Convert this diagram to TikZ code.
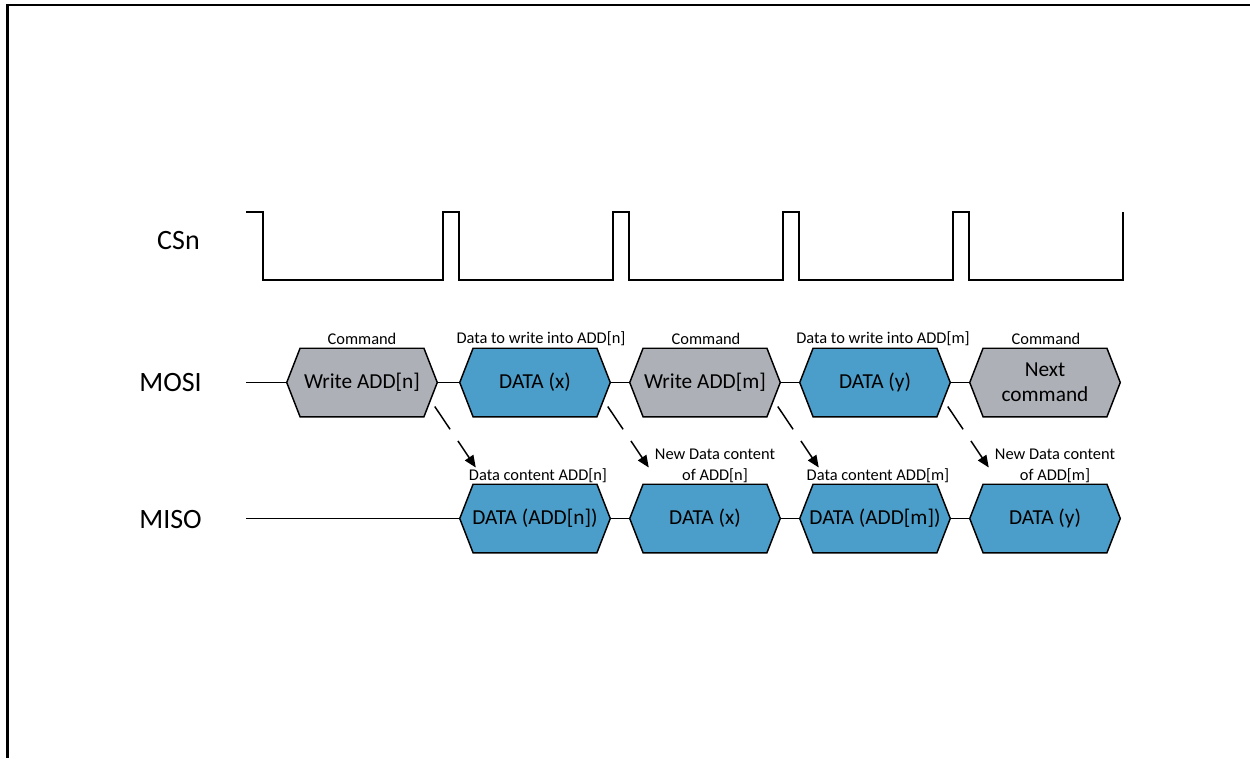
\documentclass[tikz,border=0pt]{standalone}
\usepackage{fontspec}
\setmainfont{Carlito}
\usetikzlibrary{arrows.meta,backgrounds}
\definecolor{cmdgray}{RGB}{173,176,182}
\definecolor{datablue}{RGB}{75,158,201}
\tikzset{
  wave/.style={line width=1.1pt, line join=miter},
  hexbox/.style={minimum width=112.5pt, minimum height=51pt, inner sep=0pt,
    font=\fontsize{16}{18.75}\selectfont, align=center},
  hexline/.style={line width=1.1pt, line join=miter},
  busline/.style={line width=1.1pt},
  siglabel/.style={font=\fontsize{21}{25}\selectfont, anchor=east, inner sep=0pt},
  toplabel/.style={font=\fontsize{12.3}{15.75}\selectfont, align=center, inner sep=0pt},
  ptr/.style={line width=1.1pt, dash pattern=on 20.6pt off 10.5pt on 80pt off 10pt,
    -{Triangle[length=9pt,width=7.5pt]}},
  frameline/.style={line width=1.6pt},
}
\newcommand\hexshape[2]{%
  \path[hexline, draw=black, fill=#2] (#1.west) -- ([xshift=10pt]#1.north west)
    -- ([xshift=-10pt]#1.north east) -- (#1.east) -- ([xshift=-10pt]#1.south east)
    -- ([xshift=10pt]#1.south west) -- cycle;}
\begin{document}
\begin{tikzpicture}[x=0.75pt,y=-0.75pt]
\useasboundingbox (0,0) rectangle (1250,758);
% frame
\draw[frameline] (1250,5) -- (7.5,5) -- (7.5,758);

% signal names
\node[siglabel] (lcs) at (200,241) {CSn};
\node[siglabel] (lmosi) at (202,383) {MOSI};
\node[siglabel] (lmiso) at (202,519) {MISO};

% CSn waveform
\draw[wave] (246,212) -- (263,212) -- (263,280) -- (443,280) -- (443,212) -- (459,212)
  -- (459,280) -- (613,280) -- (613,212) -- (629,212) -- (629,280) -- (783,280)
  -- (783,212) -- (799,212) -- (799,280) -- (953,280) -- (953,212) -- (969,212)
  -- (969,280) -- (1123,280) -- (1123,212);

% MOSI hexes
\node[hexbox] (h1) at (362,382.5) {Write ADD[n]};
\node[hexbox] (h2) at (535,382.5) {DATA (x)};
\node[hexbox] (h3) at (705,382.5) {Write ADD[m]};
\node[hexbox] (h4) at (875,382.5) {DATA (y)};
\node[hexbox] (h5) at (1045,382.5) {Next\\command};
% MISO hexes
\node[hexbox] (m1) at (535,518.5) {DATA (ADD[n])};
\node[hexbox] (m2) at (705,518.5) {DATA (x)};
\node[hexbox] (m3) at (875,518.5) {DATA (ADD[m])};
\node[hexbox] (m4) at (1045,518.5) {DATA (y)};

\begin{scope}[on background layer]
  \fill[white] (0,0) rectangle (1250,758);
  \hexshape{h1}{cmdgray}
  \hexshape{h2}{datablue}
  \hexshape{h3}{cmdgray}
  \hexshape{h4}{datablue}
  \hexshape{h5}{cmdgray}
  \hexshape{m1}{datablue}
  \hexshape{m2}{datablue}
  \hexshape{m3}{datablue}
  \hexshape{m4}{datablue}
\end{scope}

% bus lines
\coordinate (mosistart) at (246,382.5);
\coordinate (misostart) at (246,518.5);
\draw[busline] (mosistart) -- (h1.west);
\draw[busline] (h1.east) -- (h2.west);
\draw[busline] (h2.east) -- (h3.west);
\draw[busline] (h3.east) -- (h4.west);
\draw[busline] (h4.east) -- (h5.west);
\draw[busline] (misostart) -- (m1.west);
\draw[busline] (m1.east) -- (m2.west);
\draw[busline] (m2.east) -- (m3.west);
\draw[busline] (m3.east) -- (m4.west);

% labels
\node[toplabel] (t1) at (362,339) {Command};
\node[toplabel] (t2) at (541,339) {Data to write into ADD[n]};
\node[toplabel] (t3) at (706,339) {Command};
\node[toplabel] (t4) at (883,339) {Data to write into ADD[m]};
\node[toplabel] (t5) at (1046,339) {Command};
\node[toplabel] (b1) at (538,476) {Data content ADD[n]};
\node[toplabel] (b2) at (715,465.5) {New Data content\\of ADD[n]};
\node[toplabel] (b3) at (878,476) {Data content ADD[m]};
\node[toplabel] (b4) at (1055,465.5) {New Data content\\of ADD[m]};

% arrows
\foreach \h [count=\i] in {h1,h2,h3,h4}{
  \coordinate (a\i s) at ([shift={(-2.5,24)}]\h.east);
  \coordinate (a\i e) at ([shift={(41,61)}]a\i s);
  \draw[ptr] (a\i s) -- (a\i e);
}
\end{tikzpicture}
\end{document}
